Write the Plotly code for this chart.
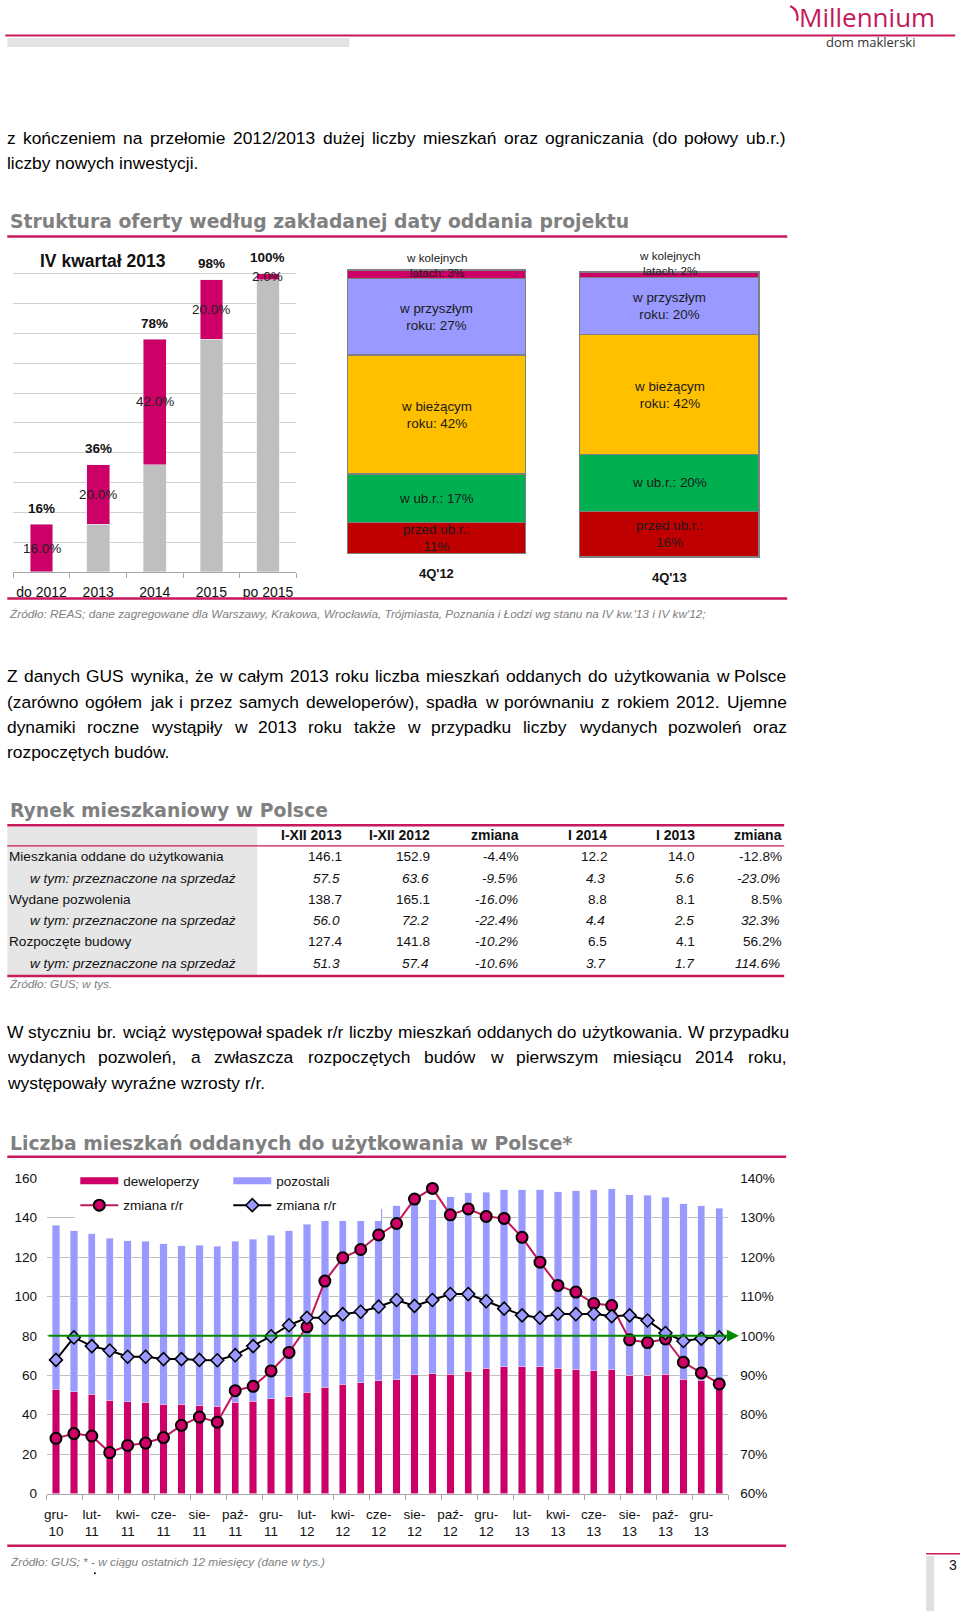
import plotly.graph_objects as go

W, H = 960, 1611
# small correction of the placement seen in the rendered page
SX, OX = 0.997, 2.7
SY, OY = 0.9908, 6.0


def px(x):
    return (x - OX) / SX / W


def py(y):
    return 1 - (y - OY) / SY / H


SANS = "Liberation Sans, Arial, sans-serif"
TITLE = "DejaVu Sans, Verdana, sans-serif"
MAG = "#CC0066"
RULE = "#C8175D"
LAV = "#9999FF"
GRAY_TXT = "#808080"

# ---------------- struktura oferty ----------------
okresy = ["do 2012", "2013", "2014", "2015", "po 2015"]
podstawa = [0, 16, 36, 78, 98]
przyrost = [16, 20, 42, 20, 2]
narastajaco = [16, 36, 78, 98, 100]

kwartaly = ["4Q'12", "4Q'13"]
segmenty = ["przed ub.r.:<br>{}%", "w ub.r.: {}%", "w bieżącym<br>roku: {}%",
            "w przyszłym<br>roku: {}%", "w kolejnych<br>latach: {}%"]
oferta_4q12 = [11, 17, 42, 27, 3]
oferta_4q13 = [16, 20, 42, 20, 2]
kolory_segmentow = ["#C00000", "#00B050", "#FFC000", "#9999FF", "#CC0066"]

# ---------------- tabela ----------------
naglowki = ["I-XII 2013", "I-XII 2012", "zmiana", "I 2014", "I 2013", "zmiana"]
wiersze = ["Mieszkania oddane do użytkowania", "w tym: przeznaczone na sprzedaż",
           "Wydane pozwolenia", "w tym: przeznaczone na sprzedaż",
           "Rozpoczęte budowy", "w tym: przeznaczone na sprzedaż"]
rok_2013 = [146.1, 57.5, 138.7, 56.0, 127.4, 51.3]
rok_2012 = [152.9, 63.6, 165.1, 72.2, 141.8, 57.4]
zmiana_rok = [-4.4, -9.5, -16.0, -22.4, -10.2, -10.6]
sty_2014 = [12.2, 4.3, 8.8, 4.4, 6.5, 3.7]
sty_2013 = [14.0, 5.6, 8.1, 2.5, 4.1, 1.7]
zmiana_sty = [-12.8, -23.0, 8.5, 32.3, 56.2, 114.6]

# ---------------- mieszkania oddane (12m, tys.) ----------------
miesiace = ["gru-10", "sty-11", "lut-11", "mar-11", "kwi-11", "maj-11", "cze-11",
            "lip-11", "sie-11", "wrz-11", "paź-11", "lis-11", "gru-11", "sty-12",
            "lut-12", "mar-12", "kwi-12", "maj-12", "cze-12", "lip-12", "sie-12",
            "wrz-12", "paź-12", "lis-12", "gru-12", "sty-13", "lut-13", "mar-13",
            "kwi-13", "maj-13", "cze-13", "lip-13", "sie-13", "wrz-13", "paź-13",
            "lis-13", "gru-13", "sty-14"]
deweloperzy = [52.9, 51.6, 50.3, 47.2, 46.6, 46.2, 45.4, 45.2, 44.9, 44.2, 46.4, 46.9,
               48.2, 49.4, 51.4, 53.9, 55.4, 56.3, 57.1, 57.6, 60.3, 60.8, 60.5, 62.0,
               63.6, 64.4, 64.4, 64.4, 63.5, 63.0, 62.2, 62.7, 60.0, 60.0, 60.5, 58.0,
               57.5, 56.2]
pozostali = [83.2, 81.8, 81.4, 82.3, 81.6, 81.7, 81.4, 80.5, 81.1, 81.3, 81.5, 82.1,
             82.9, 83.9, 85.2, 86.1, 86.0, 86.6, 87.5, 88.4, 87.2, 88.2, 90.0, 90.7,
             89.3, 89.6, 89.6, 89.7, 89.7, 90.6, 91.8, 91.9, 91.7, 91.4, 89.9, 89.0,
             88.6, 88.6]
zmiana_dew = [74.0, 75.2, 74.6, 70.4, 72.2, 72.8, 74.2, 77.3, 79.4, 78.1, 86.1, 87.2,
              91.1, 95.8, 102.3, 113.9, 119.8, 121.9, 125.6, 128.5, 134.7, 137.4, 130.7,
              132.2, 130.3, 129.8, 125.0, 118.7, 112.8, 111.1, 108.2, 107.7, 99.0, 98.3,
              99.2, 93.3, 90.6, 87.8]
zmiana_ogolem = [93.9, 99.6, 97.4, 96.3, 94.7, 94.7, 94.1, 94.1, 93.9, 93.8, 95.1, 97.4,
                 99.9, 102.7, 104.6, 104.6, 105.5, 106.1, 107.4, 109.1, 107.6, 109.1,
                 110.6, 110.6, 108.8, 106.9, 105.2, 104.6, 105.6, 105.5, 105.6, 105.0,
                 105.2, 103.9, 100.7, 98.7, 99.3, 99.6]

# ---------------- teksty ----------------
akapit1 = ["z kończeniem na przełomie 2012/2013 dużej liczby mieszkań oraz ograniczania (do połowy ub.r.)",
           "liczby nowych inwestycji."]
akapit2 = ["Z danych GUS wynika, że w całym 2013 roku liczba mieszkań oddanych do użytkowania w Polsce",
           "(zarówno ogółem jak i przez samych deweloperów), spadła w porównaniu z rokiem 2012. Ujemne",
           "dynamiki roczne wystąpiły w 2013 roku także w przypadku liczby wydanych pozwoleń oraz",
           "rozpoczętych budów."]
akapit3 = ["W styczniu br. wciąż występował spadek r/r liczby mieszkań oddanych do użytkowania. W przypadku",
           "wydanych pozwoleń, a zwłaszcza rozpoczętych budów w pierwszym miesiącu 2014 roku,",
           "występowały wyraźne wzrosty r/r."]

# przybliżone szerokości znaków Arial (1/1000 em) do justowania
ARIAL = {}
for chars, w in [("ijl", 222), ("ł", 240), ("ft .,/:;I!", 278), ("r()-", 333), ("'", 191),
                 ("*", 389), ("ckszvxyćśźżJ", 500), ("abdeghnopquąęńó0123456789LŁ", 556),
                 ("FTZŹŻ", 611), ("ABEKPSVXYŚ", 667), ("wCDHNRU", 722), ("GOQ", 778),
                 ("mM", 833), ("%", 889), ("W", 944)]:
    for c in chars:
        ARIAL[c] = w


def text_w(s, size):
    return sum(ARIAL.get(c, 556) for c in s) * size / 1000


fig = go.Figure()


def txt(s, x, y, size=13, color="#111", xanchor="left", bold=False, italic=False,
        family=SANS, yanchor="middle"):
    # annotation boxes carry some padding round the text
    if xanchor == "left":
        x -= 2.5
    elif xanchor == "right":
        x += 2
    fig.add_annotation(text=s, x=px(x), y=py(y), xref="paper", yref="paper",
                       xanchor=xanchor, yanchor=yanchor, showarrow=False,
                       font=dict(family=family, size=size, color=color,
                                 weight="bold" if bold else "normal",
                                 style="italic" if italic else "normal"))


def hline(x0, x1, y, color=RULE, width=2.5):
    fig.add_shape(type="line", xref="paper", yref="paper", x0=px(x0), x1=px(x1),
                  y0=py(y), y1=py(y), line=dict(color=color, width=width))


def rect(x0, x1, y0, y1, color):
    fig.add_shape(type="rect", xref="paper", yref="paper", x0=px(x0), x1=px(x1),
                  y0=py(y0), y1=py(y1), fillcolor=color, line=dict(width=0), layer="below")


def paragraph(lines, y0, step, size=17.4, left=7, right=787):
    for i, line in enumerate(lines):
        y = y0 + i * step
        words = line.split(" ")
        if i == len(lines) - 1:
            txt(line, left, y, size=size, color="#000")
            continue
        widths = [text_w(w, size) for w in words]
        gap = max((right - left - sum(widths)) / (len(words) - 1), 0.3 * size)
        x = left
        for w, wd in zip(words, widths):
            txt(w, x, y, size=size, color="#000")
            x += wd + gap


# ---------------- nagłówek strony ----------------
hline(5, 955, 34.5, width=2)
rect(7, 349, 37, 46, "#E3E3E3")
txt("Millennium", 867, 16.5, size=26, color="#C4175C", xanchor="center",
    family="Open Sans, sans-serif")
fig.add_shape(type="path", xref="paper", yref="paper",
              path=f"M {px(790)} {py(5)} Q {px(799)} {py(9)} {px(797)} {py(20)}",
              line=dict(color="#C4175C", width=2))
txt("dom maklerski", 870, 41, size=13, color="#333", xanchor="center",
    family="Open Sans, sans-serif")

paragraph(akapit1, 136.7, 25.7)
paragraph(akapit2, 675.3, 25.3)
paragraph(akapit3, 1031, 25.6)

# ---------------- tytuły sekcji ----------------
txt("Struktura oferty według zakładanej daty oddania projektu", 10, 221, size=18.8,
    color=GRAY_TXT, bold=True, family=TITLE)
hline(7, 787, 235.5)
hline(7, 787, 597.5)
txt("Źródło: REAS; dane zagregowane dla Warszawy, Krakowa, Wrocławia, Trójmiasta, "
    "Poznania i Łodzi wg stanu na IV kw.'13 i IV kw'12;", 9, 612.7, size=11.8,
    color=GRAY_TXT, italic=True)

txt("Rynek mieszkaniowy w Polsce", 10, 809.5, size=18.8, color=GRAY_TXT, bold=True,
    family=TITLE)
txt("Liczba mieszkań oddanych do użytkowania w Polsce*", 10, 1143, size=18.8,
    color=GRAY_TXT, bold=True, family=TITLE)
hline(7, 786, 1156)
hline(7, 786, 1545)
txt("Źródło: GUS; * - w ciągu ostatnich 12 miesięcy (dane w tys.)", 10, 1561,
    size=11.8, color=GRAY_TXT, italic=True)
# drobna kropka pod źródłem (jak w oryginale)
fig.add_shape(type="circle", xref="paper", yref="paper", x0=px(93.6), x1=px(95.6),
              y0=py(1571.5), y1=py(1573.5), fillcolor="#000", line=dict(width=0))

# ---------------- waterfall ----------------
fig.add_trace(go.Bar(x=okresy, y=podstawa, marker_color="#BFBFBF", width=0.4,
                     xaxis="x", yaxis="y", showlegend=False, hoverinfo="skip"))
fig.add_trace(go.Bar(x=okresy, y=przyrost, marker_color=MAG, width=0.4,
                     xaxis="x", yaxis="y", showlegend=False, hoverinfo="skip"))
for i, (b, p, t) in enumerate(zip(podstawa, przyrost, narastajaco)):
    fig.add_annotation(x=i, y=b + p / 2, xref="x", yref="y", text=f"{p:.1f}%",
                       showarrow=False, font=dict(size=13.5, color="#222"))
    fig.add_annotation(x=i, y=t, xref="x", yref="y", text=f"{t}%", yshift=16,
                       showarrow=False, font=dict(size=13.5, color="#111", weight="bold"))
txt("IV kwartał 2013", 102.5, 260, size=17.5, bold=True, xanchor="center")

# ---------------- struktura 4Q ----------------
for n, (q, vals, top_shift) in enumerate(zip(kwartaly, [oferta_4q12, oferta_4q13], [9, 12]), start=2):
    cum = 0
    for k, v in enumerate(vals):
        fig.add_trace(go.Bar(x=[q], y=[v], width=1, xaxis=f"x{n}", yaxis=f"y{n}",
                             marker=dict(color=kolory_segmentow[k],
                                         line=dict(color="#808080", width=1.5)),
                             showlegend=False, hoverinfo="skip"))
        last = k == len(vals) - 1
        fig.add_annotation(x=0, y=cum + v / 2, xref=f"x{n}", yref=f"y{n}",
                           text=segmenty[k].format(v), showarrow=False,
                           yshift=top_shift if last else 0,
                           font=dict(size=11.7 if last else 13.4, color="#1a1a1a"))
        cum += v

# ---------------- tabela ----------------
rect(7, 257, 826, 974, "#E6E6E6")
hline(7, 784, 824.3, width=2.5)
hline(7, 784, 845, width=1.2)
hline(7, 784, 975, width=2.5)
col_x = [341.7, 430, 519, 606.7, 695, 781.7]
row_y = [856, 877.3, 898.5, 919.8, 941, 962.2]
for cx, h in zip(col_x, naglowki):
    txt(h, cx, 834.5, size=14, bold=True, xanchor="right")
kolumny = [rok_2013, rok_2012, zmiana_rok, sty_2014, sty_2013, zmiana_sty]
procent = [False, False, True, False, False, True]
for r, (nazwa, ry) in enumerate(zip(wiersze, row_y)):
    sub = nazwa.startswith("w tym")
    txt(nazwa, 30 if sub else 9, ry, size=13.6, italic=sub)
    for c, (cx, col) in enumerate(zip(col_x, kolumny)):
        v = col[r]
        s = f"{v:.1f}%" if procent[c] else f"{v:.1f}"
        it = sub or (c == 2 and r > 0)
        txt(s, cx - (1.5 if it else 0), ry, size=13.6, italic=it, xanchor="right")
txt("Źródło: GUS; w tys.", 9, 983, size=11.8, color=GRAY_TXT, italic=True)

# ---------------- wykres mieszkań ----------------
fig.add_trace(go.Bar(x=miesiace, y=deweloperzy, marker_color=MAG, width=0.41,
                     xaxis="x4", yaxis="y4", showlegend=False, hoverinfo="skip"))
fig.add_trace(go.Bar(x=miesiace, y=pozostali, marker_color=LAV, width=0.41,
                     xaxis="x4", yaxis="y4", showlegend=False, hoverinfo="skip"))
# wpisy legendy dla słupków
fig.add_trace(go.Scatter(x=[None], y=[None], xaxis="x4", yaxis="y4", mode="lines",
                         name="deweloperzy", line=dict(color=MAG, width=7)))
fig.add_trace(go.Scatter(x=[None], y=[None], xaxis="x4", yaxis="y4", mode="lines",
                         name="pozostali", line=dict(color=LAV, width=7)))
fig.add_trace(go.Scatter(x=miesiace, y=zmiana_dew, xaxis="x4", yaxis="y5",
                         mode="lines+markers", name="zmiana r/r", legend="legend2",
                         line=dict(color="#C2185B", width=2),
                         marker=dict(symbol="circle", size=11, color=MAG,
                                     line=dict(color="#000", width=2))))
fig.add_trace(go.Scatter(x=miesiace, y=zmiana_ogolem, xaxis="x4", yaxis="y5",
                         mode="lines+markers", name="zmiana r/r", legend="legend2",
                         line=dict(color="#000", width=2),
                         marker=dict(symbol="diamond", size=10, color=LAV,
                                     line=dict(color="#000", width=1.5))))
# oś pomocnicza: znaczniki na granicach kategorii
fig.add_trace(go.Scatter(x=[-0.5, len(miesiace) - 0.5], y=[0, 0], xaxis="x5", yaxis="y4",
                         mode="markers", marker=dict(opacity=0), showlegend=False,
                         hoverinfo="skip"))
fig.add_annotation(x=len(miesiace) + 0.1, y=100, xref="x4", yref="y5",
                   ax=-0.5, ay=100, axref="x4", ayref="y5", text="",
                   showarrow=True, arrowhead=2, arrowsize=1.2, arrowwidth=2,
                   arrowcolor="#008A00")

# ---------------- numer strony ----------------
hline(926, 962, 1553, width=1.5)
rect(926, 934, 1555, 1620, "#E0E0E0")
txt("3", 953, 1564, size=14, xanchor="center")

# ---------------- osie ----------------
axis_common = dict(fixedrange=True, zeroline=False)
lab_font = dict(family=SANS, size=14, color="#111")
fig.update_layout(
    width=W, height=H, autosize=False, margin=dict(l=0, r=0, t=0, b=0),
    paper_bgcolor="white", plot_bgcolor="rgba(0,0,0,0)", barmode="stack",
    font=dict(family=SANS, color="#111"),
    xaxis=dict(domain=[px(13), px(296)], anchor="y", type="category",
               range=[-0.5, 4.5], tickson="boundaries", ticks="outside", ticklen=5,
               tickcolor="#A6A6A6", showline=True, linecolor="#A6A6A6", tickangle=0,
               showgrid=False, tickfont=lab_font, ticklabelstandoff=7, **axis_common),
    yaxis=dict(domain=[py(571), py(243)], anchor="x", range=[0, 110], dtick=10,
               showgrid=True, gridcolor="#D0D0D0", showticklabels=False, **axis_common),
    xaxis2=dict(domain=[px(345.5), px(526.8)], anchor="y2", type="category",
                range=[-0.51, 0.51], showgrid=False, ticks="", tickangle=0,
                tickfont=dict(family=SANS, size=13, color="#111", weight="bold"),
                ticklabelstandoff=9, **axis_common),
    yaxis2=dict(domain=[py(554.4), py(267.3)], anchor="x2", range=[-0.6, 100.6],
                visible=False, **axis_common),
    xaxis3=dict(domain=[px(577.5), px(760.8)], anchor="y3", type="category",
                range=[-0.51, 0.51], showgrid=False, ticks="", tickangle=0,
                tickfont=dict(family=SANS, size=13, color="#111", weight="bold"),
                ticklabelstandoff=9, **axis_common),
    yaxis3=dict(domain=[py(557.7), py(269.3)], anchor="x3", range=[-0.6, 100.6],
                visible=False, **axis_common),
    xaxis4=dict(domain=[px(46.7), px(728)], anchor="y4", type="category",
                range=[-0.5, len(miesiace) - 0.5], tickmode="array",
                tickvals=miesiace[::2],
                ticktext=[m.replace("-", "-<br>") for m in miesiace[::2]],
                ticks="", showline=True, linecolor="#A6A6A6", showgrid=False, tickangle=0,
                tickfont=dict(family=SANS, size=13.5, color="#111"),
                ticklabelstandoff=8, **axis_common),
    xaxis5=dict(overlaying="x4", anchor="y4", range=[-0.5, len(miesiace) - 0.5],
                tickmode="array", tickvals=[i - 0.5 for i in range(0, len(miesiace) + 1, 2)],
                ticks="outside", ticklen=5, tickcolor="#A6A6A6", showticklabels=False,
                showgrid=False, showline=False, **axis_common),
    yaxis4=dict(domain=[py(1492.7), py(1177.3)], anchor="x4", range=[0, 160], dtick=20,
                showgrid=True, gridcolor="#BFBFBF", tickfont=dict(family=SANS, size=13.5,
                color="#111"), ticklabelstandoff=9, **axis_common),
    yaxis5=dict(overlaying="y4", side="right", anchor="x4", range=[60, 140], dtick=10,
                ticksuffix="%", showgrid=False, tickfont=dict(family=SANS, size=13.5,
                color="#111"), ticklabelstandoff=11, **axis_common),
    legend=dict(orientation="h", x=px(75), y=py(1180), xanchor="left", yanchor="middle",
                bgcolor="white", font=dict(family=SANS, size=13.5, color="#111"),
                traceorder="normal", entrywidth=100, entrywidthmode="pixels",
                itemwidth=38),
    legend2=dict(orientation="h", x=px(75), y=py(1204.5), xanchor="left",
                 yanchor="middle", bgcolor="white", traceorder="normal",
                 font=dict(family=SANS, size=13.5, color="#111"),
                 entrywidth=100, entrywidthmode="pixels", itemwidth=38),
)

fig.write_html(
    "out.html",
    config={"displayModeBar": False, "responsive": False},
    default_width="960px", default_height="1611px",
    post_script=(
        "document.documentElement.style.margin='0px';"
        "document.body.style.margin='0px';"
        "document.documentElement.style.overflow='hidden';"
        "document.body.style.overflow='hidden';"
        "var gd=document.getElementById('{plot_id}');"
        "Plotly.relayout(gd,{width:960,height:1611});"
    ),
)
